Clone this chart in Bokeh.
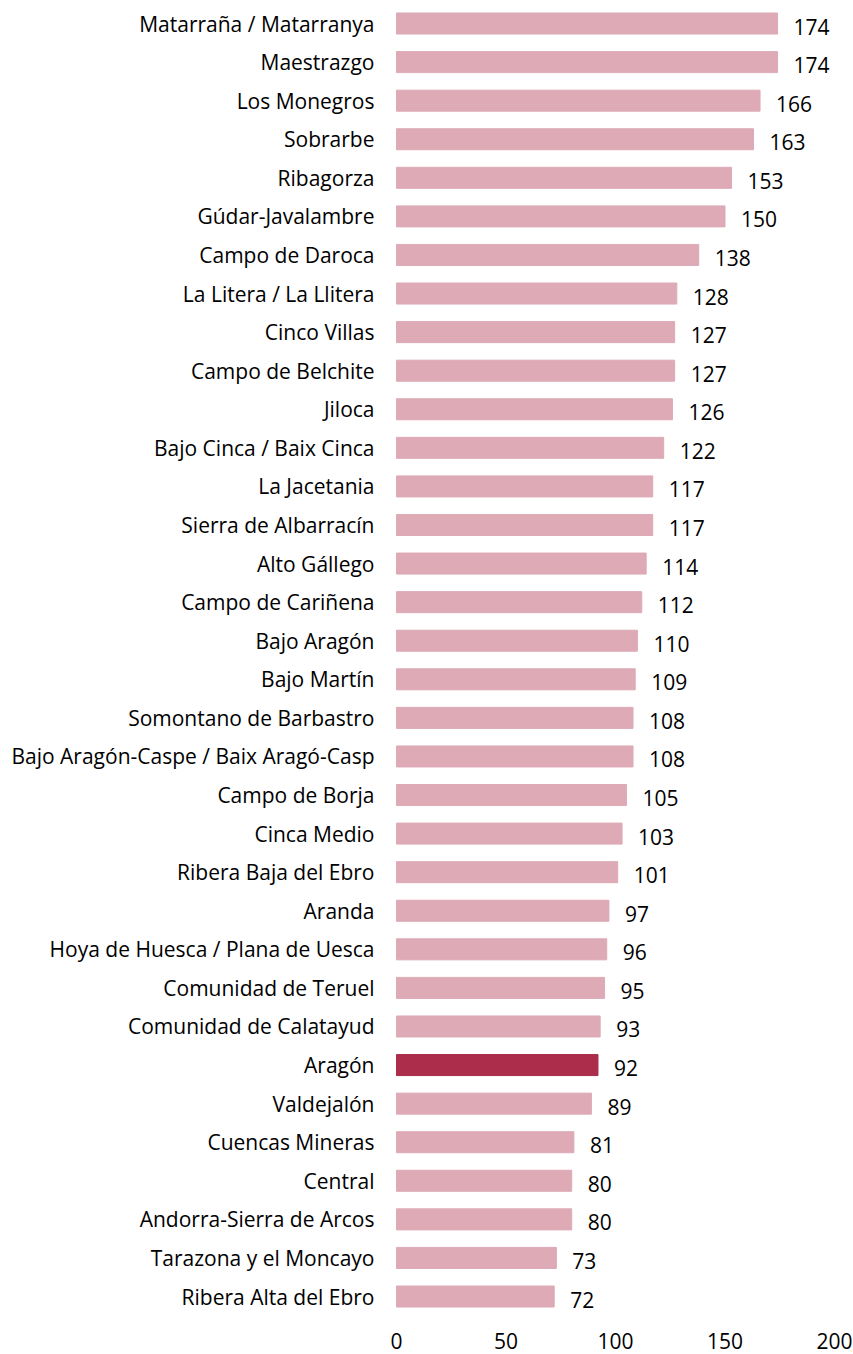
from bokeh.plotting import figure
from bokeh.models import ColumnDataSource, Range1d, FixedTicker, LabelSet
from bokeh.core.properties import value
from bokeh.embed import file_html
from bokeh.resources import INLINE

categories = [
    "Matarraña / Matarranya", "Maestrazgo", "Los Monegros", "Sobrarbe", "Ribagorza",
    "Gúdar-Javalambre", "Campo de Daroca", "La Litera / La Llitera", "Cinco Villas",
    "Campo de Belchite", "Jiloca", "Bajo Cinca / Baix Cinca", "La Jacetania",
    "Sierra de Albarracín", "Alto Gállego", "Campo de Cariñena", "Bajo Aragón",
    "Bajo Martín", "Somontano de Barbastro", "Bajo Aragón-Caspe / Baix Aragó-Casp",
    "Campo de Borja", "Cinca Medio", "Ribera Baja del Ebro", "Aranda",
    "Hoya de Huesca / Plana de Uesca", "Comunidad de Teruel", "Comunidad de Calatayud",
    "Aragón", "Valdejalón", "Cuencas Mineras", "Central", "Andorra-Sierra de Arcos",
    "Tarazona y el Moncayo", "Ribera Alta del Ebro",
]
values = [174, 174, 166, 163, 153, 150, 138, 128, 127, 127, 126, 122, 117, 117, 114,
          112, 110, 109, 108, 108, 105, 103, 101, 97, 96, 95, 93, 92, 89, 81, 80, 80,
          73, 72]
x_ticks = [0, 50, 100, 150, 200]
highlight = "Aragón"

FONT = "Open Sans"
FS = "21px"

n = len(categories)
ypos = [n - 1 - i for i in range(n)]
colors = ["#AB2C4B" if c == highlight else "#DDAAB6" for c in categories]

src = ColumnDataSource(dict(cat=categories, val=values, y=ypos, color=colors,
                            lab=[str(v) for v in values]))

y_start = -1.503
p = figure(width=853, height=1354, output_backend="svg", toolbar_location=None,
           x_range=Range1d(-7.306, 208.676), y_range=Range1d(y_start, n - 1 + 0.389),
           min_border_left=380, min_border_right=0, min_border_top=8, min_border_bottom=0)
p.hbar(y="y", right="val", left=0, height=0.545, color="color", source=src)

labels = LabelSet(x="val", y="y", text="lab", source=src, x_offset=16, y_offset=-3,
                  text_baseline="middle", text_align="left", text_font=value(FONT),
                  text_font_size=FS, text_color="#000000")
p.add_layout(labels)

# x tick labels drawn at the bottom of the frame
tick_src = ColumnDataSource(dict(x=x_ticks, y=[y_start] * len(x_ticks),
                                 t=[str(t) for t in x_ticks]))
p.text(x="x", y="y", text="t", source=tick_src, y_offset=-14,
       text_baseline="middle", text_align="center", text_font=value(FONT),
       text_font_size=FS, text_color="#000000")
p.xaxis.visible = False

p.yaxis.ticker = FixedTicker(ticks=ypos)
p.yaxis.major_label_overrides = {y: c for y, c in zip(ypos, categories)}
ax = p.yaxis[0]
ax.axis_line_color = None
ax.major_tick_line_color = None
ax.minor_tick_line_color = None
ax.major_tick_out = 0
ax.major_tick_in = 0
ax.major_label_text_font = FONT
ax.major_label_text_font_size = FS
ax.major_label_text_color = "#000000"
ax.major_label_standoff = 6

p.xgrid.grid_line_color = None
p.ygrid.grid_line_color = None
p.outline_line_color = None

open("out.html", "w").write(file_html(p, INLINE))
